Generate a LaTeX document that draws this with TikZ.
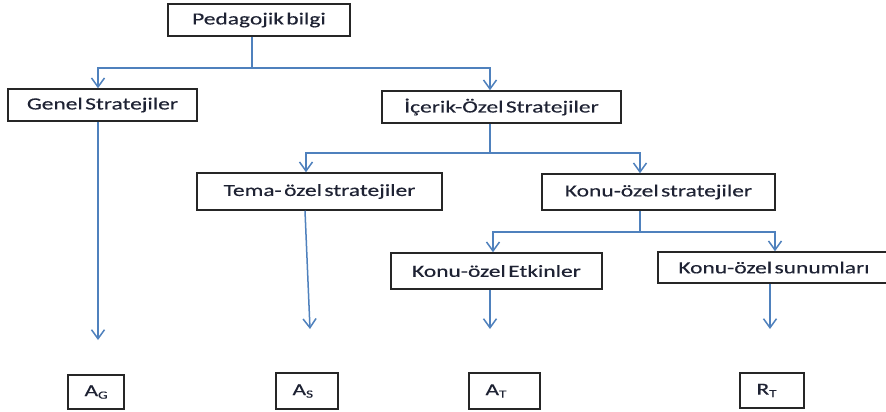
\documentclass[tikz,border=0pt]{standalone}
\usepackage{fontspec}
\usetikzlibrary{arrows.meta}
\newfontfamily\boxfont[FakeStretch=1.38,WordSpace=0.45,FakeBold=0.3]{Carlito}
\definecolor{linkblue}{HTML}{4F81BD}
\definecolor{boxline}{HTML}{262626}
\definecolor{txt}{HTML}{1E2233}
\newcommand{\sub}[1]{\raisebox{-2.5pt}{\fontsize{11}{11}\selectfont #1}}
\begin{document}
\begin{tikzpicture}[x=1pt,y=-1pt,
  box/.style={draw=boxline,line width=1.5pt,inner sep=0pt,text=txt,
    font=\boxfont\fontsize{17}{20}\selectfont},
  sbox/.style={draw=boxline,line width=1.5pt,inner ysep=0pt,inner xsep=16.5pt,
    align=left,text=txt,font=\boxfont\fontsize{17}{20}\selectfont},
  link/.style={draw=linkblue,line width=1.5pt},
  arr/.style={link,-{Straight Barb[length=9pt,width=13pt,line width=1.5pt]}}]
\useasboundingbox (0,0) rectangle (886,412);
\clip (0,0) rectangle (886,412);
\fill[white] (0,0) rectangle (886,412);
% boxes
\node[box,minimum width=182,minimum height=32] (ped) at (259,20) {Pedagojik bilgi};
\node[box,minimum width=189,minimum height=32] (gen) at (102.5,105) {Genel Stratejiler};
\node[box,minimum width=239,minimum height=32] (ice) at (501.5,107) {İçerik-Özel Stratejiler};
\node[box,minimum width=245,minimum height=37] (tema) at (319.5,191.5) {Tema- özel stratejiler};
\node[box,minimum width=233,minimum height=36] (konu) at (658.5,192) {Konu-özel stratejiler};
\node[box,minimum width=211,minimum height=36] (etk) at (496.5,271) {Konu-özel Etkinler};
\node[box,minimum width=232,minimum height=31] (sun) at (774,267.5) {Konu-özel sunumları};
% bottom boxes
\node[sbox,text width=23pt,minimum height=34] (ag) at (96,392) {A\sub{G}};
\node[sbox,text width=29pt,minimum height=36] (as) at (307,391) {A\sub{S}};
\node[sbox,text width=38pt,minimum height=36] (at) at (504.5,391) {A\sub{T}};
\node[sbox,text width=31pt,minimum height=35] (rt) at (772,390.5) {R\sub{T}};
% junctions and free ends
\coordinate (j1) at (252,68);
\coordinate (j2) at (490,153);
\coordinate (j3) at (640,232);
\coordinate (eG) at (98,340);
\coordinate (eS) at (310,329);
\coordinate (eT) at (490,329);
\coordinate (eR) at (770,329);
% connectors
\draw[link] (ped.south -| j1) -- (j1);
\draw[arr] (j1) -| ([xshift=-4.5]gen.north);
\draw[arr] (j1) -| ([xshift=-11.5]ice.north);
\draw[link] (ice.south -| j2) -- (j2);
\draw[arr] (j2) -| ([xshift=-13.5]tema.north);
\draw[arr] (j2) -| ([xshift=-18.5]konu.north);
\draw[link] (konu.south -| j3) -- (j3);
\draw[arr] (j3) -| ([xshift=-3.5]etk.north);
\draw[arr] (j3) -| ([xshift=1]sun.north);
\draw[arr] (gen.south -| eG) -- (eG);
\draw[arr] ([xshift=-14.5]tema.south) -- (eS);
\draw[arr] (etk.south -| eT) -- (eT);
\draw[arr] (sun.south -| eR) -- (eR);
\end{tikzpicture}
\end{document}
